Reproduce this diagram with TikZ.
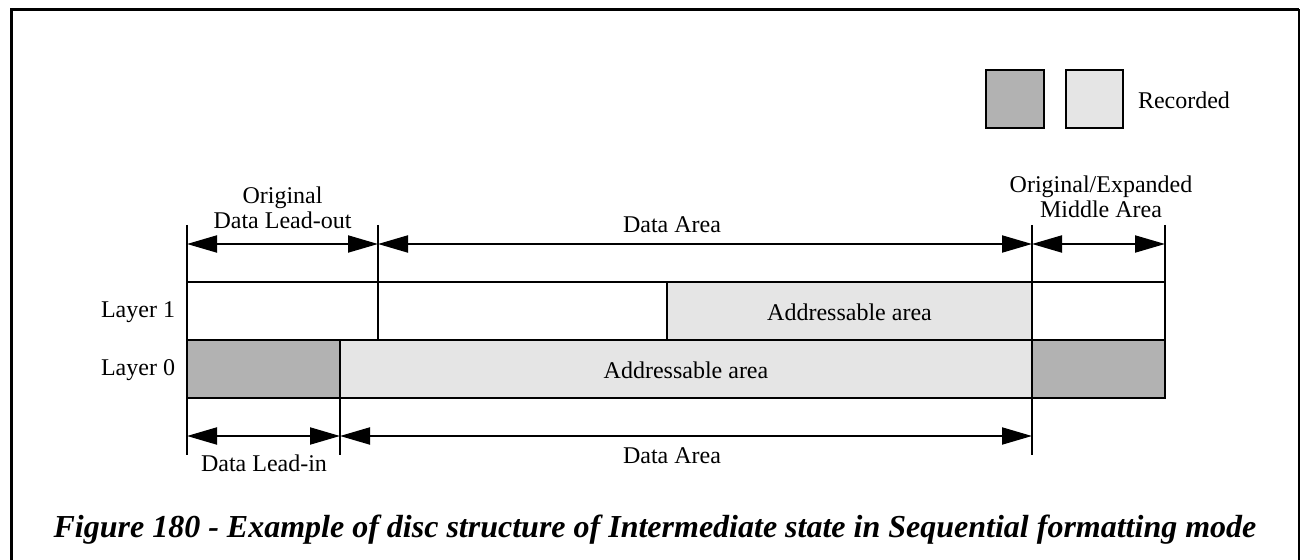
\documentclass[tikz,border=0pt]{standalone}
\usepackage{fontspec}
\setmainfont{Liberation Serif}
\usetikzlibrary{arrows.meta, positioning}
\definecolor{recdark}{gray}{0.70}
\definecolor{reclight}{gray}{0.90}

\begin{document}
\begin{tikzpicture}[x=0.5pt, y=-0.5pt, line width=1pt,
    cell/.style={draw=black, line width=1pt},
    tickline/.style={line width=1pt},
    dimline/.style={line width=1pt,
      {Triangle[length=15pt,width=8.5pt]}-{Triangle[length=15pt,width=8.5pt]}},
    lbl/.style={font=\fontsize{12}{12.5}\selectfont, inner sep=0pt, align=center}]
  \useasboundingbox (0,0) rectangle (1301,560);

  % frame, open at the bottom
  \draw[line width=1.5pt] (11.5,561) -- (11.5,9.5) -- (1299,9.5);
  \draw[line width=0.75pt] (1299,9.5) -- (1299,561);

  % legend
  \filldraw[cell, fill=recdark] (986,70) rectangle (1044,128);
  \filldraw[cell, fill=reclight] (1066,70) rectangle (1123,128);
  \node[lbl, anchor=west] (recorded) at (1137,100) {Recorded};

  % layer 1
  \draw[cell] (187,282) rectangle (378,340);
  \draw[cell] (378,282) rectangle (667,340);
  \filldraw[cell, fill=reclight] (667,282) rectangle (1032,340);
  \draw[cell] (1032,282) rectangle (1165,340);
  % layer 0
  \filldraw[cell, fill=recdark] (187,340) rectangle (340,398);
  \filldraw[cell, fill=reclight] (340,340) rectangle (1032,398);
  \filldraw[cell, fill=recdark] (1032,340) rectangle (1165,398);

  \node[lbl, anchor=east] (layer1) at (176,312) {Layer 1};
  \node[lbl, anchor=east] (layer0) at (176,370) {Layer 0};
  \node[lbl] (addr1) at (849.5,312) {Addressable area};
  \node[lbl] (addr0) at (686,370) {Addressable area};

  % tick lines
  \coordinate (tA) at (187,225);
  \coordinate (tB) at (378,225);
  \coordinate (tC) at (1032,225);
  \coordinate (tD) at (1165,225);
  \coordinate (bA) at (187,455);
  \coordinate (bB) at (340,455);
  \coordinate (bC) at (1032,455);
  \draw[tickline] (tA) -- (bA);
  \draw[tickline] (tB) -- (378,282);
  \draw[tickline] (tC) -- (bC);
  \draw[tickline] (tD) -- (1165,282);
  \draw[tickline] (340,398) -- (bB);

  % dimension arrows, top
  \coordinate (uA) at (187,244);
  \coordinate (uB) at (378,244);
  \coordinate (uC) at (1032,244);
  \coordinate (uD) at (1165,244);
  \draw[dimline] (uA) -- (uB);
  \draw[dimline] (uB) -- (uC);
  \draw[dimline] (uC) -- (uD);
  \node[lbl] (leadout) at (282.5,208) {Original\\Data Lead-out};
  \node[lbl] (areatop) at (672,225) {Data Area};
  \node[lbl] (middle) at (1101,197) {Original/Expanded\\Middle Area};

  % dimension arrows, bottom
  \coordinate (dA) at (187,436);
  \coordinate (dB) at (340,436);
  \coordinate (dC) at (1032,436);
  \draw[dimline] (dA) -- (dB);
  \draw[dimline] (dB) -- (dC);
  \node[lbl] (leadin) at (264,463) {Data Lead-in};
  \node[lbl] (areabot) at (672,456) {Data Area};

  % caption
  \node[font=\fontsize{16}{18}\selectfont\bfseries\itshape, inner sep=0pt]
    (caption) at (655,530) {Figure 180 - Example of disc structure of Intermediate state in Sequential formatting mode};
\end{tikzpicture}
\end{document}
